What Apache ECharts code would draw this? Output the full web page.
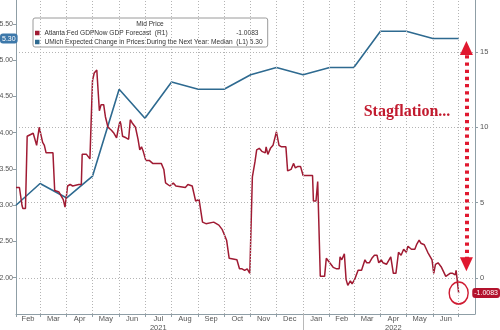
<!DOCTYPE html>
<html>
<head>
<meta charset="utf-8">
<script src="https://cdn.jsdelivr.net/npm/echarts@6/dist/echarts.min.js"></script>
<style>
  html, body { margin: 0; padding: 0; background: #ffffff; }
  #chart { width: 500px; height: 330px; }
</style>
</head>
<body>
<div id="chart"></div>
<script>
// Atlanta Fed GDPNow forecast (right axis, %)
const gdpDates = [
  '2021-02-01','2021-02-05','2021-02-08','2021-02-09','2021-02-12','2021-02-14','2021-02-21','2021-02-23','2021-02-25','2021-02-28',
  '2021-03-04','2021-03-06','2021-03-08','2021-03-16','2021-03-18','2021-03-23','2021-03-28','2021-03-30',
  '2021-04-01','2021-04-02','2021-04-05','2021-04-08','2021-04-15','2021-04-18','2021-04-19','2021-04-24','2021-04-28','2021-04-30',
  '2021-05-01','2021-05-03','2021-05-06','2021-05-08','2021-05-09','2021-05-11','2021-05-14','2021-05-16','2021-05-19','2021-05-23','2021-05-26','2021-05-29','2021-05-31',
  '2021-06-02','2021-06-03','2021-06-05','2021-06-09','2021-06-12','2021-06-14','2021-06-16','2021-06-20','2021-06-23','2021-06-25','2021-06-27','2021-06-29',
  '2021-07-02','2021-07-06','2021-07-10','2021-07-16','2021-07-20','2021-07-23','2021-07-25','2021-07-30',
  '2021-08-03','2021-08-06','2021-08-17','2021-08-20','2021-08-25','2021-08-29',
  '2021-09-02','2021-09-04','2021-09-06','2021-09-10','2021-09-19','2021-09-25','2021-09-29',
  '2021-10-04','2021-10-07','2021-10-09','2021-10-16','2021-10-19','2021-10-22','2021-10-25','2021-10-28','2021-10-31',
  '2021-11-02','2021-11-03','2021-11-06','2021-11-08','2021-11-11','2021-11-14','2021-11-18','2021-11-19','2021-11-21','2021-11-24','2021-11-27',
  '2021-12-01','2021-12-04','2021-12-07','2021-12-12','2021-12-14','2021-12-18','2021-12-21','2021-12-23','2021-12-26','2021-12-29',
  '2022-01-01','2022-01-05','2022-01-12','2022-01-13','2022-01-16','2022-01-18','2022-01-20','2022-01-21','2022-01-26','2022-01-28',
  '2022-02-01','2022-02-05','2022-02-09','2022-02-12','2022-02-13','2022-02-15','2022-02-18','2022-02-20','2022-02-22','2022-02-25','2022-02-27',
  '2022-03-02','2022-03-06','2022-03-10','2022-03-14','2022-03-16','2022-03-19','2022-03-22','2022-03-25','2022-03-28','2022-03-30',
  '2022-04-02','2022-04-04','2022-04-08','2022-04-11','2022-04-13','2022-04-16','2022-04-19','2022-04-22','2022-04-25','2022-04-28',
  '2022-05-01','2022-05-03','2022-05-07','2022-05-11','2022-05-13','2022-05-16','2022-05-18','2022-05-22','2022-05-26','2022-05-29','2022-05-31',
  '2022-06-02','2022-06-04','2022-06-07','2022-06-11','2022-06-13','2022-06-16','2022-06-18','2022-06-21','2022-06-24','2022-06-27','2022-06-28',
  '2022-07-01'
];
const gdpValues = [
  6.0, 6.0, 4.8, 4.6, 4.6, 9.4, 9.6, 9.6, 8.8, 10.0,
  9.0, 8.8, 8.3, 8.3, 5.8, 5.7, 5.2, 4.7,
  5.6, 6.1, 6.2, 6.1, 6.2, 6.2, 8.2, 8.2, 7.9, 7.8,
  13.1, 13.6, 13.8, 13.7, 11.1, 11.5, 11.5, 10.7, 10.0, 9.8, 9.6, 9.3, 9.9,
  10.4, 10.2, 9.4, 9.3, 9.2, 10.5, 10.3, 10.0, 9.2, 8.5, 8.7, 8.4,
  7.8, 7.8, 7.6, 7.6, 7.6, 7.2, 6.3, 6.1,
  6.3, 6.1, 6.0, 6.2, 6.1, 5.1,
  5.2, 5.3, 3.7, 3.6, 3.7, 3.5, 3.2,
  2.5, 1.3, 1.2, 1.2, 0.6, 0.6, 0.5, 0.6, 0.3,
  0.2, 6.7, 7.7, 8.5, 8.6, 8.4, 8.3, 8.7, 8.2, 8.6, 8.8,
  9.7, 8.8, 8.7, 8.7, 7.1, 7.2, 7.6, 7.3, 7.4, 7.4,
  6.8, 6.8, 6.8, 5.1, 5.1, 6.4, 6.5, 0.1, 0.1, 1.3,
  1.0, 0.7, 0.6, 0.6, 1.4, 1.2, 1.6, -0.1, -0.5, -0.2, -0.4,
  -0.1, 0.5, 0.5, 1.2, 1.0, 1.0, 1.3, 1.5, 1.5, 1.0,
  1.2, 1.0, 0.9, 1.2, 1.4, 0.3, 0.3, 1.7, 1.5, 1.9,
  1.7, 2.1, 1.9, 1.9, 2.2, 2.5, 2.3, 2.2, 1.7, 1.4, 1.2,
  0.3, 0.9, 1.0, 0.7, 0.6, 0.1, 0.2, 0.3, 0.3, 0.2, 0.5,
  -1.0083
];

// UMich expected change in prices during the next year, median (left axis, %)
const umichDates = [
  '2021-02-01','2021-03-01','2021-04-01','2021-05-01','2021-06-01','2021-07-01','2021-08-01','2021-09-01','2021-10-01',
  '2021-11-01','2021-12-01','2022-01-01','2022-02-01','2022-03-01','2022-04-01','2022-05-01','2022-06-01','2022-07-01'
];
const umichValues = [3.0, 3.3, 3.1, 3.4, 4.6, 4.2, 4.7, 4.6, 4.6, 4.8, 4.9, 4.8, 4.9, 4.9, 5.4, 5.4, 5.3, 5.3];

// Axis ticks and labels
const leftTicks = [2.0, 2.5, 3.0, 3.5, 4.0, 4.5, 5.0, 5.5];
const rightTicks = [0, 5, 10, 15];
const monthStarts = [
  '2021-02-01','2021-03-01','2021-04-01','2021-05-01','2021-06-01','2021-07-01','2021-08-01','2021-09-01','2021-10-01',
  '2021-11-01','2021-12-01','2022-01-01','2022-02-01','2022-03-01','2022-04-01','2022-05-01','2022-06-01','2022-07-01'
];
const monthLabels = ['Feb','Mar','Apr','May','Jun','Jul','Aug','Sep','Oct','Nov','Dec','Jan','Feb','Mar','Apr','May','Jun'];
const yearLabels = { 5: '2021', 14: '2022' };

const gdpName = 'Atlanta Fed GDPNow GDP Forecast  (R1)';
const umichName = 'UMich Expected Change in Prices During the Next Year: Median  (L1)';

// dates become day numbers counted from 2021-02-01 (UTC, so no DST drift)
const DAY = 86400000;
const ORIGIN = Date.UTC(2021, 1, 1);
const toDay = s => {
  const p = s.split('-').map(Number);
  return (Date.UTC(p[0], p[1] - 1, p[2]) - ORIGIN) / DAY;
};

const tickDays = monthStarts.map(toDay);
const labelDays = monthLabels.map((_, i) => (tickDays[i] + tickDays[i + 1]) / 2);
const labelText = {};
labelDays.forEach((t, i) => {
  labelText[t] = yearLabels[i] ? monthLabels[i] + '\n' + yearLabels[i] : monthLabels[i];
});

const gdpData = gdpDates.map((d, i) => [toDay(d), gdpValues[i]]);
const umichData = umichDates.map((d, i) => [toDay(d), umichValues[i]]);
const gdpLast = gdpValues[gdpValues.length - 1];
const umichLast = umichValues[umichValues.length - 1];
const gdpLastDay = toDay(gdpDates[gdpDates.length - 1]);

const RED = '#a01b33';
const BLUE = '#2e6a90';
const ANNOT = '#e0182f';
const AXIS = '#8f9ea6';
const GRIDLINE = '#b4b4b4';
const FONT = "'Liberation Sans', Arial, sans-serif";

const chart = echarts.init(document.getElementById('chart'), null, { renderer: 'canvas' });

chart.setOption({
  animation: false,
  backgroundColor: '#ffffff',
  grid: { left: 16, right: 25, top: 0, bottom: 16, containLabel: false, outerBoundsMode: 'none' },
  legend: {
    orient: 'vertical',
    left: 33,
    top: 18,
    padding: [11, 5, 1, 2],
    itemGap: 1,
    itemWidth: 4.5,
    itemHeight: 4.5,
    icon: 'rect',
    selectedMode: false,
    backgroundColor: '#ffffff',
    borderColor: '#9a9a9a',
    borderWidth: 1,
    borderRadius: 2,
    data: [gdpName, umichName],
    textStyle: {
      fontFamily: FONT,
      fontSize: 6.6,
      lineHeight: 8,
      color: '#333333',
      rich: {
        n: { fontFamily: FONT, fontSize: 6.6, width: 184, color: '#333333' },
        v: { fontFamily: FONT, fontSize: 6.6, width: 30, align: 'right', color: '#333333' },
        m: { fontFamily: FONT, fontSize: 6.6, color: '#333333' }
      }
    },
    formatter: name => name === gdpName
      ? '{n|' + name + '}{v|' + gdpLast.toFixed(4) + '}'
      : '{m|' + name + ' ' + umichLast.toFixed(2) + '}'
  },
  xAxis: {
    type: 'value',
    min: toDay('2021-02-01'),
    max: toDay('2022-07-20'),
    axisLine: { show: true, onZero: false, lineStyle: { color: AXIS, width: 1 } },
    axisTick: { show: true, length: 3, customValues: tickDays, lineStyle: { color: AXIS } },
    splitLine: { show: false },
    axisLabel: {
      customValues: labelDays,
      formatter: v => labelText[v] || '',
      fontFamily: FONT,
      fontSize: 7.5,
      lineHeight: 8.5,
      color: '#555555',
      margin: 1,
      hideOverlap: false
    }
  },
  yAxis: [
    {
      type: 'value',
      position: 'left',
      min: 1.5,
      max: 5.83,
      axisLine: { show: true, onZero: false, lineStyle: { color: AXIS, width: 1 } },
      axisTick: { show: true, length: 3, inside: false, customValues: leftTicks, lineStyle: { color: AXIS } },
      splitLine: { show: false },
      axisLabel: {
        customValues: leftTicks,
        formatter: v => v.toFixed(2),
        fontFamily: FONT,
        fontSize: 7,
        color: '#555555',
        margin: 3
      },
      axisPointer: {
        show: true,
        status: 'show',
        value: umichLast,
        type: 'line',
        triggerTooltip: false,
        lineStyle: { opacity: 0 },
        label: {
          show: true,
          formatter: p => Number(p.value).toFixed(2),
          backgroundColor: '#3d78aa',
          color: '#ffffff',
          fontFamily: FONT,
          fontSize: 7,
          padding: [2, 2, 1, 2],
          borderRadius: 3,
          margin: 2
        }
      }
    },
    {
      type: 'value',
      position: 'right',
      min: -2.4,
      max: 18.45,
      axisLine: { show: true, onZero: false, lineStyle: { color: AXIS, width: 1 } },
      axisTick: { show: true, length: 3, customValues: rightTicks, lineStyle: { color: AXIS } },
      splitLine: { show: true, lineStyle: { color: GRIDLINE, type: [1, 2], width: 1 } },
      axisLabel: {
        customValues: rightTicks,
        fontFamily: FONT,
        fontSize: 7.5,
        color: '#555555',
        margin: 5
      },
      axisPointer: {
        show: true,
        status: 'show',
        value: gdpLast,
        type: 'line',
        triggerTooltip: false,
        lineStyle: { opacity: 0 },
        label: {
          show: true,
          formatter: p => Number(p.value).toFixed(4),
          backgroundColor: '#b3122d',
          color: '#ffffff',
          fontFamily: FONT,
          fontSize: 7,
          padding: [2, 2, 1, 2],
          borderRadius: 3,
          margin: 2
        }
      }
    }
  ],
  series: [
    {
      // month-boundary gridlines
      name: 'monthGrid',
      type: 'line',
      yAxisIndex: 0,
      data: [],
      z: 1,
      silent: true,
      markLine: {
        silent: true,
        symbol: 'none',
        label: { show: false },
        lineStyle: { color: GRIDLINE, type: [1, 2], width: 1 },
        emphasis: { disabled: true },
        data: tickDays.slice(1).map(d => ({ xAxis: d }))
      }
    },
    {
      name: umichName,
      type: 'line',
      yAxisIndex: 0,
      data: umichData,
      showSymbol: false,
      symbol: 'none',
      color: BLUE,
      lineStyle: { color: BLUE, width: 1.6 },
      z: 3
    },
    {
      name: gdpName,
      type: 'line',
      yAxisIndex: 1,
      data: gdpData,
      showSymbol: false,
      symbol: 'none',
      color: RED,
      lineStyle: { color: RED, width: 1.5 },
      z: 4,
      markPoint: {
        silent: true,
        symbol: 'circle',
        symbolSize: [19, 22],
        itemStyle: { color: 'rgba(0,0,0,0)', borderColor: '#cf1a31', borderWidth: 1.5 },
        label: { show: false },
        data: [{ coord: [gdpLastDay, gdpLast] }]
      },
      markLine: {
        silent: true,
        symbol: ['triangle', 'triangle'],
        symbolSize: [13, 14],
        label: { show: false },
        lineStyle: { color: ANNOT, width: 4, type: [3.3, 3.9], cap: 'butt' },
        itemStyle: { color: ANNOT },
        emphasis: { disabled: true },
        data: [[
          { coord: [toDay('2022-07-10'), 15.26] },
          { coord: [toDay('2022-07-10'), 0.9] }
        ]]
      }
    }
  ],
  graphic: [
    {
      type: 'text',
      id: 'legendTitle',
      z: 100,
      x: 150,
      y: 24,
      style: {
        text: 'Mid Price',
        fill: '#333333',
        font: "6.6px 'Liberation Sans', Arial, sans-serif",
        textAlign: 'center',
        textVerticalAlign: 'middle'
      }
    },
    {
      type: 'text',
      id: 'note',
      z: 100,
      x: 407,
      y: 112,
      style: {
        text: 'Stagflation...',
        fill: '#c21a2e',
        font: "bold 16px 'Liberation Serif', 'DejaVu Serif', serif",
        textAlign: 'center',
        textVerticalAlign: 'middle'
      }
    }
  ]
});

// year separator below the axis at the 2021/2022 boundary
const sepPt = chart.convertToPixel({ seriesIndex: 1 }, [toDay('2022-01-01'), 1.5]);
if (sepPt && isFinite(sepPt[0]) && isFinite(sepPt[1])) {
  const sx = Math.round(sepPt[0]) + 0.5;
  chart.setOption({
    graphic: [{
      type: 'line',
      id: 'yearSep',
      z: 50,
      shape: { x1: sx, y1: sepPt[1], x2: sx, y2: 330 },
      style: { stroke: '#b8b8b8', lineWidth: 1 }
    }]
  });
}
</script>
</body>
</html>
